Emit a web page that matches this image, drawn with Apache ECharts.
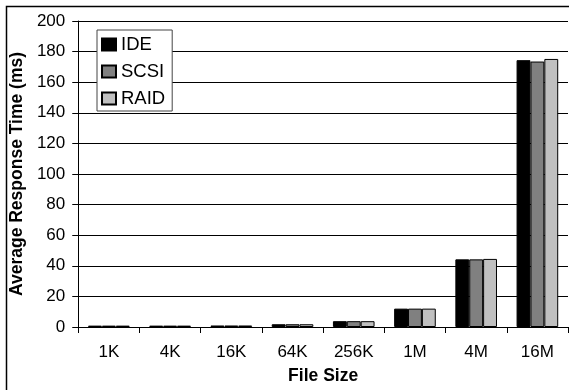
<!DOCTYPE html>
<html>
<head>
<meta charset="utf-8">
<script src="https://cdn.jsdelivr.net/npm/echarts@6/dist/echarts.min.js"></script>
<style>
  html, body { margin: 0; padding: 0; background: #fff; }
  #chart { width: 569px; height: 390px; }
</style>
</head>
<body>
<div id="chart"></div>
<script>
// File sizes tested
const categories = ['1K', '4K', '16K', '64K', '256K', '1M', '4M', '16M'];
// Average response time (ms) per storage type
const ideTimes  = [0.9, 0.9, 1.0, 1.8, 3.8, 12.0, 44.2, 174.4];
const scsiTimes = [0.9, 0.9, 1.0, 1.8, 3.8, 12.0, 44.2, 173.5];
const raidTimes = [0.9, 0.9, 1.0, 1.8, 3.8, 12.0, 44.5, 175.2];
const seriesNames = ['IDE', 'SCSI', 'RAID'];
const seriesColors = ['#000000', '#808080', '#c0c0c0'];

const FONT = '"Liberation Sans", Arial, sans-serif';
const chart = echarts.init(document.getElementById('chart'), null, { renderer: 'canvas' });

const values = [ideTimes, scsiTimes, raidTimes];

chart.setOption({
  animation: false,
  backgroundColor: '#ffffff',
  graphic: [{
    type: 'rect',
    shape: { x: 6.5, y: 6.5, width: 700, height: 700 },
    style: { fill: 'none', stroke: '#000', lineWidth: 1.5 },
    silent: true,
    z: 0
  }],
  grid: { left: 78, right: 1, top: 21, bottom: 62, containLabel: false },
  legend: {
    orient: 'vertical',
    left: 97,
    top: 30,
    itemWidth: 14,
    itemHeight: 12,
    itemGap: 8,
    padding: [5, 7, 3, 4],
    icon: 'rect',
    backgroundColor: '#fff',
    borderColor: '#444',
    borderWidth: 1,
    textStyle: { fontFamily: FONT, fontSize: 18.5, color: '#000', lineHeight: 19 },
    data: seriesNames
  },
  xAxis: {
    type: 'category',
    data: categories,
    name: 'File Size',
    nameLocation: 'middle',
    nameGap: 40,
    nameTextStyle: { fontFamily: FONT, fontSize: 17.5, fontWeight: 'bold', color: '#000' },
    axisLine: { lineStyle: { color: '#000', width: 1 } },
    axisTick: { show: true, length: 6, lineStyle: { color: '#000' } },
    axisLabel: { fontFamily: FONT, fontSize: 17, color: '#000', margin: 17 },
    splitLine: { show: false }
  },
  yAxis: {
    type: 'value',
    min: 0,
    max: 200,
    interval: 20,
    name: 'Average Response Time (ms)',
    nameLocation: 'middle',
    nameGap: 40,
    nameTextStyle: { fontFamily: FONT, fontSize: 17.5, fontWeight: 'bold', color: '#000' },
    axisLine: { show: true, lineStyle: { color: '#000', width: 1 } },
    axisTick: { show: true, length: 6, lineStyle: { color: '#000' } },
    axisLabel: { fontFamily: FONT, fontSize: 17, color: '#000', margin: 13 },
    splitLine: { show: true, lineStyle: { color: '#000', width: 1 } }
  },
  series: seriesNames.map((name, i) => ({
    name: name,
    type: 'bar',
    data: values[i],
    barGap: '0%',
    barCategoryGap: '32%',
    itemStyle: { color: seriesColors[i], borderColor: '#000', borderWidth: 1 }
  }))
});
</script>
</body>
</html>
